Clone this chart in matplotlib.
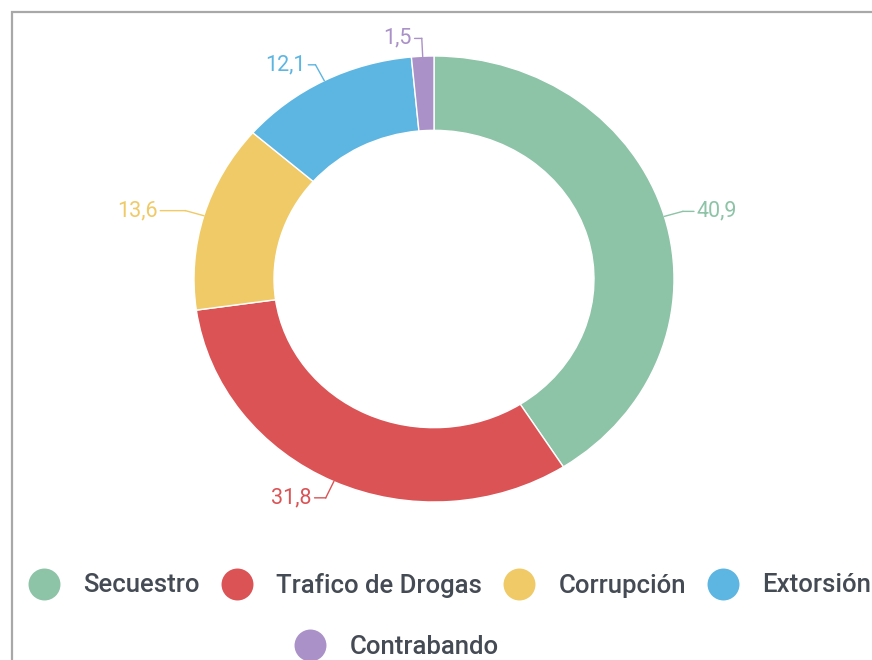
import numpy as np
import matplotlib.pyplot as plt
from matplotlib.lines import Line2D
from matplotlib.patches import Rectangle

plt.rcParams['font.family'] = ['Roboto', 'DejaVu Sans']

# datos
categorias = ['Secuestro', 'Trafico de Drogas', 'Corrupción', 'Extorsión', 'Contrabando']
valores = [40.9, 31.8, 13.6, 12.1, 1.5]
colores = ['#8DC3A7', '#DB5355', '#EFCA66', '#5DB5E2', '#AA91C8']
guia = [14, 14, 28, 10, 10]  # largo del tramo horizontal de cada linea guia (px)

W, H = 872, 660
fig = plt.figure(figsize=(W / 100, H / 100), dpi=100)

# marco gris del recorte
fig.patches.append(Rectangle((12 / W, -0.1), 1.2, (H - 12) / H + 0.1, transform=fig.transFigure,
                             fill=False, edgecolor='#A8A8A8', linewidth=1.6))

# la dona esta un poco estirada en horizontal
ax = fig.add_axes([194 / W, (H - 502) / H, 480 / W, 446 / H])
wedges, _ = ax.pie(valores, colors=colores, startangle=90, counterclock=False, radius=1,
                   wedgeprops=dict(width=1 / 3, edgecolor='white', linewidth=1))
ax.set_aspect('auto')
ax.set_xlim(-1, 1)
ax.set_ylim(-1, 1)
ax.axis('off')

# etiquetas con linea guia
for w, v, c, g in zip(wedges, valores, colores, guia):
    ang = np.deg2rad((w.theta1 + w.theta2) / 2)
    x, y = np.cos(ang), np.sin(ang)
    ex, ey = 1.08 * x, 1.08 * y
    ax.plot([x, ex], [y, ey], color=c, lw=1, clip_on=False)
    lado = 1 if x >= 0 else -1
    ax.annotate(f'{v:.1f}'.replace('.', ','), xy=(ex, ey), xytext=(lado * g, 0),
                textcoords='offset pixels', ha='left' if lado > 0 else 'right', va='center',
                fontsize=15.5, color=c, annotation_clip=False,
                arrowprops=dict(arrowstyle='-', color=c, lw=1, shrinkA=0, shrinkB=0))

# leyenda
def handle(c):
    return Line2D([], [], marker='o', linestyle='none', markersize=23,
                  markerfacecolor=c, markeredgewidth=0)

opts = dict(frameon=False, borderpad=0, borderaxespad=0, handlelength=1.36,
            handletextpad=0.84, columnspacing=0.77, labelcolor='#454B54', loc='center left',
            prop={'weight': 'medium', 'size': 18.5})
fig.legend([handle(c) for c in colores[:4]], categorias[:4], ncol=4,
           bbox_to_anchor=(27 / W, (H - 585) / H), **opts)
fig.legend([handle(colores[4])], categorias[4:], ncol=1,
           bbox_to_anchor=(293 / W, (H - 647) / H), **opts)

fig.savefig('out.png', dpi=100)
